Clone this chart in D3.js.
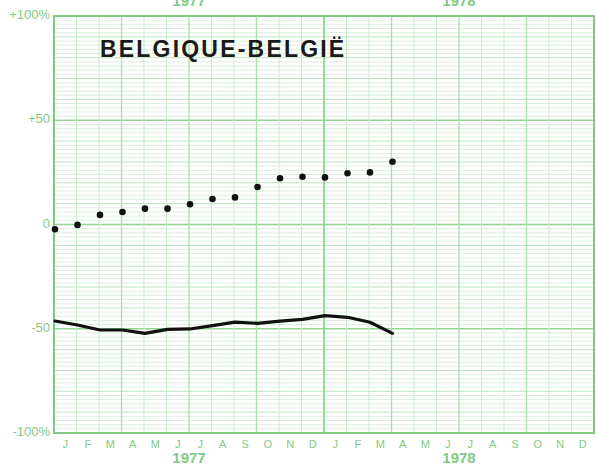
<!DOCTYPE html>
<html>
<head>
<meta charset="utf-8">
<script src="https://cdn.jsdelivr.net/npm/d3@7"></script>
<style>
  body { margin: 0; background: #fff; }
  svg { display: block; }
  text { font-family: "Liberation Sans", Arial, sans-serif; }
</style>
</head>
<body>
<svg id="svg1" width="596" height="470"></svg>
<script>
// months shown on the x axis (two years)
const monthLabels = ['J','F','M','A','M','J','J','A','S','O','N','D',
                     'J','F','M','A','M','J','J','A','S','O','N','D'];
const years = ['1977', '1978'];
const yTicks = [100, 50, 0, -50, -100];
const yTickLabels = ['+100%', '+50', '0', '-50', '-100%'];

// dotted series, Jan 1977 .. Apr 1978 (%)
const dotValues = [-2.3, -0.2, 4.6, 6.0, 7.6, 7.6, 9.7, 12.2, 13.0, 18.0,
                   22.2, 22.9, 22.6, 24.6, 25.0, 30.1];
// solid line series, Jan 1977 .. Apr 1978 (%)
const lineValues = [-46.3, -48.2, -50.6, -50.6, -52.2, -50.3, -50.1, -48.5,
                    -46.8, -47.4, -46.3, -45.5, -43.7, -44.5, -46.9, -52.2];

const svg1 = d3.select('#svg1');
const margin = { top: 16, right: 2, bottom: 37, left: 54 };
const width1 = +svg1.attr('width');
const height1 = +svg1.attr('height');
const innerWidth = width1 - margin.left - margin.right;
const innerHeight = height1 - margin.top - margin.bottom;

const green = '#7fcb7f';

const xScale = d3.scaleLinear().domain([0, 24]).range([0, innerWidth]);
const yScale = d3.scaleLinear().domain([-100, 100]).range([innerHeight, 0]);

const a = svg1.append('g')
  .attr('transform', `translate(${margin.left}, ${margin.top})`);

/* horizontal grid: fine every 2%, medium every 10%, strong every 50% */
const hLines = d3.range(-100, 101, 2);
a.selectAll('.hgrid').data(hLines)
  .enter().append('line')
    .attr('class', 'hgrid')
    .attr('x1', 0).attr('x2', innerWidth)
    .attr('y1', d => yScale(d)).attr('y2', d => yScale(d))
    .attr('stroke', d => d % 50 === 0 ? '#93d593' : (d % 10 === 0 ? '#bce5bc' : '#dbf1db'))
    .attr('stroke-width', d => d % 50 === 0 ? 1.6 : 1);

/* vertical grid: months, quarters heavier, year break heaviest */
a.selectAll('.vgrid').data(d3.range(0, 25))
  .enter().append('line')
    .attr('class', 'vgrid')
    .attr('y1', 0).attr('y2', innerHeight)
    .attr('x1', d => xScale(d)).attr('x2', d => xScale(d))
    .attr('stroke', d => d % 12 === 0 ? '#8fd48f' : (d % 3 === 0 ? '#addfad' : '#c9ebc9'))
    .attr('stroke-width', d => d % 12 === 0 ? 1.8 : (d % 3 === 0 ? 1.3 : 1));

// frame
a.append('rect')
  .attr('width', innerWidth).attr('height', innerHeight)
  .attr('fill', 'none').attr('stroke', green).attr('stroke-width', 2);

// y labels
a.selectAll('.ylab').data(yTicks)
  .enter().append('text')
    .attr('class', 'ylab')
    .attr('x', -4).attr('y', d => yScale(d) + 3)
    .attr('text-anchor', 'end')
    .attr('font-size', 13).attr('fill', green)
    .text((d, i) => yTickLabels[i]);

// month letters at the middle of each month
a.selectAll('.mlab').data(monthLabels)
  .enter().append('text')
    .attr('class', 'mlab')
    .attr('x', (d, i) => xScale(i + 0.5))
    .attr('y', innerHeight + 15)
    .attr('text-anchor', 'middle')
    .attr('font-size', 11).attr('fill', green)
    .text(d => d);

// year labels, bottom and (clipped) top
a.selectAll('.ybot').data(years)
  .enter().append('text')
    .attr('class', 'ybot')
    .attr('x', (d, i) => xScale(i * 12 + 6)).attr('y', innerHeight + 30)
    .attr('text-anchor', 'middle').attr('font-size', 15)
    .attr('font-weight', 'bold').attr('fill', green).text(d => d);
a.selectAll('.ytop').data(years)
  .enter().append('text')
    .attr('class', 'ytop')
    .attr('x', (d, i) => xScale(i * 12 + 6)).attr('y', -10)
    .attr('text-anchor', 'middle').attr('font-size', 15)
    .attr('font-weight', 'bold').attr('fill', green).text(d => d);

// title
a.append('text')
  .attr('x', 46).attr('y', 41)
  .attr('font-size', 23).attr('font-weight', 'bold')
  .attr('letter-spacing', 2.2).attr('fill', '#1a1a1a')
  .text('BELGIQUE-BELGIË');

// solid series
const line = d3.line()
  .x((d, i) => xScale(i) + 1)
  .y(d => yScale(d));
a.append('path').datum(lineValues)
  .attr('d', line)
  .attr('fill', 'none').attr('stroke', '#111')
  .attr('stroke-width', 3.2).attr('stroke-linecap', 'round')
  .attr('stroke-linejoin', 'round');

// dotted series
a.selectAll('circle').data(dotValues)
  .enter().append('circle')
    .attr('cx', (d, i) => xScale(i) + 1)
    .attr('cy', d => yScale(d))
    .attr('r', 3.3)
    .attr('fill', '#111');
</script>
</body>
</html>
